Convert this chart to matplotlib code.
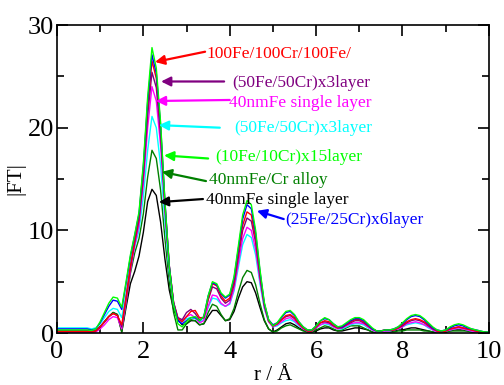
import numpy as np
import matplotlib
matplotlib.use("Agg")
import matplotlib.pyplot as plt
from matplotlib.ticker import MultipleLocator

plt.rcParams['font.family'] = ['Liberation Serif', 'DejaVu Serif']

# r grid 0.0 .. 10.0, step 0.1
r = np.round(np.arange(0, 101) / 10.0, 1)

lime = [0.3, 0.3, 0.3, 0.3, 0.3, 0.3, 0.3, 0.3, 0.25, 0.4,
        1.1, 2.0, 2.9, 3.5, 3.4, 2.5, 5.0, 7.6, 9.6, 11.8,
        16.5, 23.0, 27.8, 25.8, 20.5, 12.8, 6.5, 2.8, 0.9, 0.6,
        1.1, 1.5, 1.6, 1.2, 1.6, 3.6, 5.0, 4.8, 3.9, 3.5,
        3.8, 5.5, 8.5, 11.5, 12.9, 12.5, 10.0, 6.2, 3.0, 1.3,
        0.7, 1.0, 1.6, 2.1, 2.2, 1.8, 1.1, 0.6, 0.3, 0.3,
        0.7, 1.2, 1.5, 1.3, 0.9, 0.6, 0.7, 1.0, 1.3, 1.5,
        1.5, 1.3, 0.9, 0.5, 0.2, 0.2, 0.3, 0.3, 0.4, 0.6,
        1.0, 1.4, 1.7, 1.8, 1.7, 1.4, 1.0, 0.6, 0.3, 0.2,
        0.3, 0.6, 0.8, 0.9, 0.8, 0.6, 0.4, 0.3, 0.2, 0.1, 0.1]

blue = [0.4, 0.4, 0.4, 0.4, 0.4, 0.4, 0.4, 0.4, 0.3, 0.4,
        1.0, 1.8, 2.6, 3.2, 3.1, 2.3, 4.8, 7.4, 9.5, 11.6,
        16.2, 22.5, 27.1, 25.3, 20.2, 12.8, 6.6, 2.9, 1.2, 0.9,
        1.2, 1.5, 1.5, 1.2, 1.6, 3.6, 4.9, 4.7, 3.8, 3.4,
        3.7, 5.3, 8.2, 11.1, 12.5, 12.1, 9.7, 6.0, 2.9, 1.3,
        0.8, 1.0, 1.5, 2.0, 2.1, 1.7, 1.1, 0.6, 0.3, 0.3,
        0.7, 1.2, 1.4, 1.3, 0.9, 0.6, 0.6, 0.9, 1.2, 1.4,
        1.4, 1.2, 0.8, 0.4, 0.2, 0.2, 0.3, 0.3, 0.4, 0.6,
        0.9, 1.3, 1.6, 1.7, 1.6, 1.3, 0.9, 0.5, 0.3, 0.2,
        0.3, 0.5, 0.7, 0.8, 0.7, 0.5, 0.4, 0.3, 0.2, 0.1, 0.1]

red = [0.15, 0.15, 0.15, 0.15, 0.15, 0.15, 0.15, 0.15, 0.1, 0.2,
       0.6, 1.1, 1.6, 1.9, 1.7, 0.8, 3.5, 6.5, 9.0, 11.3,
       15.7, 22.0, 26.5, 24.8, 19.8, 12.6, 6.6, 3.0, 1.4, 1.1,
       1.6, 2.1, 2.2, 1.5, 1.5, 3.3, 4.8, 4.6, 3.6, 3.1,
       3.4, 5.0, 7.8, 10.5, 11.8, 11.5, 9.2, 5.7, 2.8, 1.2,
       0.7, 0.9, 1.3, 1.7, 1.8, 1.5, 0.9, 0.5, 0.2, 0.2,
       0.6, 1.0, 1.2, 1.1, 0.8, 0.5, 0.6, 0.8, 1.1, 1.3,
       1.3, 1.1, 0.7, 0.4, 0.2, 0.2, 0.3, 0.3, 0.3, 0.5,
       0.8, 1.1, 1.3, 1.4, 1.3, 1.1, 0.8, 0.5, 0.2, 0.1,
       0.2, 0.4, 0.5, 0.6, 0.5, 0.4, 0.3, 0.2, 0.1, 0.1, 0.0]

purple = [0.2, 0.2, 0.2, 0.2, 0.2, 0.2, 0.2, 0.2, 0.15, 0.2,
          0.6, 1.1, 1.6, 1.9, 1.7, 0.6, 3.3, 6.3, 8.8, 11.0,
          15.2, 21.2, 25.4, 23.9, 19.2, 12.3, 6.5, 3.0, 1.5, 1.3,
          2.0, 2.3, 1.9, 1.3, 1.5, 3.2, 4.5, 4.3, 3.4, 2.9,
          3.2, 4.7, 7.4, 10.0, 11.2, 10.9, 8.8, 5.5, 2.7, 1.2,
          0.7, 0.9, 1.3, 1.6, 1.7, 1.4, 0.9, 0.5, 0.2, 0.2,
          0.6, 1.0, 1.1, 1.0, 0.7, 0.5, 0.5, 0.8, 1.0, 1.2,
          1.2, 1.0, 0.7, 0.4, 0.2, 0.2, 0.3, 0.3, 0.3, 0.5,
          0.7, 1.0, 1.2, 1.3, 1.2, 1.0, 0.7, 0.4, 0.2, 0.1,
          0.2, 0.4, 0.5, 0.6, 0.5, 0.4, 0.3, 0.2, 0.1, 0.1, 0.0]

magenta = [0.05, 0.05, 0.05, 0.05, 0.05, 0.05, 0.05, 0.05, 0.05, 0.1,
           0.4, 0.8, 1.3, 1.6, 1.5, 0.4, 3.0, 6.0, 8.5, 10.5,
           14.5, 20.0, 24.0, 22.6, 18.2, 11.8, 6.3, 2.9, 1.4, 1.2,
           1.6, 1.8, 1.5, 1.0, 1.2, 2.6, 3.7, 3.6, 2.9, 2.6,
           2.9, 4.3, 6.8, 9.2, 10.3, 10.0, 8.1, 5.1, 2.5, 1.1,
           0.6, 0.8, 1.1, 1.4, 1.5, 1.2, 0.8, 0.4, 0.2, 0.2,
           0.5, 0.8, 1.0, 0.9, 0.6, 0.4, 0.5, 0.7, 0.9, 1.0,
           1.0, 0.9, 0.6, 0.3, 0.1, 0.1, 0.2, 0.2, 0.3, 0.4,
           0.6, 0.9, 1.0, 1.1, 1.0, 0.8, 0.6, 0.3, 0.1, 0.1,
           0.2, 0.3, 0.4, 0.5, 0.4, 0.3, 0.2, 0.1, 0.1, 0.0, 0.0]

cyan = [0.5, 0.5, 0.5, 0.5, 0.5, 0.5, 0.5, 0.5, 0.4, 0.5,
        0.9, 1.5, 2.1, 2.4, 2.3, 1.5, 3.8, 6.5, 8.4, 10.0,
        13.3, 17.8, 21.1, 20.0, 16.3, 10.8, 5.9, 2.8, 1.4, 1.1,
        1.4, 1.5, 1.4, 1.1, 1.3, 2.5, 3.4, 3.3, 2.8, 2.6,
        2.8, 4.1, 6.4, 8.6, 9.6, 9.3, 7.6, 4.8, 2.4, 1.1,
        0.6, 0.7, 1.0, 1.2, 1.3, 1.1, 0.7, 0.4, 0.2, 0.2,
        0.5, 0.8, 0.9, 0.8, 0.6, 0.4, 0.4, 0.6, 0.8, 0.9,
        0.9, 0.8, 0.5, 0.3, 0.1, 0.1, 0.2, 0.2, 0.3, 0.4,
        0.6, 0.8, 0.9, 1.0, 0.9, 0.8, 0.5, 0.3, 0.1, 0.1,
        0.2, 0.3, 0.4, 0.5, 0.4, 0.3, 0.2, 0.1, 0.1, 0.0, 0.0]

dgreen = [0.2, 0.2, 0.2, 0.2, 0.2, 0.2, 0.2, 0.2, 0.15, 0.2,
          0.6, 1.1, 1.6, 2.0, 1.8, 0.1, 2.8, 5.8, 7.8, 9.2,
          11.6, 15.2, 17.8, 17.0, 13.9, 9.2, 5.0, 2.0, 0.3, 0.3,
          0.9, 1.3, 1.2, 0.8, 0.9, 2.0, 2.8, 2.6, 1.8, 1.2,
          1.4, 2.4, 4.0, 5.4, 6.1, 5.9, 4.7, 2.9, 1.3, 0.4,
          0.1, 0.2, 0.5, 0.7, 0.8, 0.6, 0.4, 0.2, 0.1, 0.1,
          0.3, 0.5, 0.7, 0.6, 0.4, 0.2, 0.3, 0.5, 0.7, 0.7,
          0.7, 0.5, 0.3, 0.1, 0.0, 0.0, 0.1, 0.1, 0.1, 0.2,
          0.2, 0.3, 0.3, 0.3, 0.3, 0.2, 0.2, 0.1, 0.1, 0.1,
          0.1, 0.2, 0.2, 0.2, 0.2, 0.2, 0.1, 0.1, 0.1, 0.0, 0.0]

black = [0.2, 0.2, 0.2, 0.2, 0.2, 0.2, 0.2, 0.2, 0.15, 0.2,
         0.6, 1.1, 1.6, 2.0, 1.8, 0.1, 2.5, 4.8, 6.0, 7.5,
         9.8, 12.8, 14.0, 13.4, 10.8, 7.2, 4.2, 2.3, 1.3, 0.8,
         0.9, 1.2, 1.2, 0.8, 0.9, 1.6, 2.2, 2.2, 1.7, 1.2,
         1.3, 2.1, 3.4, 4.5, 5.0, 4.9, 3.9, 2.5, 1.2, 0.4,
         0.1, 0.3, 0.6, 0.9, 1.0, 0.8, 0.5, 0.3, 0.1, 0.1,
         0.2, 0.4, 0.5, 0.5, 0.3, 0.2, 0.2, 0.3, 0.4, 0.5,
         0.5, 0.4, 0.3, 0.1, 0.0, 0.0, 0.1, 0.1, 0.2, 0.3,
         0.3, 0.4, 0.5, 0.5, 0.4, 0.3, 0.2, 0.1, 0.1, 0.1,
         0.1, 0.2, 0.3, 0.3, 0.3, 0.2, 0.1, 0.1, 0.1, 0.0, 0.0]

series = [
    (black, "black"),
    (dgreen, "#008000"),
    (cyan, "#00ffff"),
    (magenta, "#ff00ff"),
    (purple, "#800080"),
    (red, "#ff0000"),
    (blue, "#0000ff"),
    (lime, "#00ff00"),
]

# label, colour, text position, arrow tail, arrow head (data coords)
labels = [
    ("100Fe/100Cr/100Fe/", "#ff0000", (3.45, 27.2), (3.43, 27.4), (2.27, 26.4)),
    ("(50Fe/50Cr)x3layer", "#800080", (4.07, 24.4), (3.87, 24.5), (2.41, 24.5)),
    ("40nmFe single layer", "#ff00ff", (3.98, 22.4), (4.0, 22.7), (2.29, 22.6)),
    ("(50Fe/50Cr)x3layer", "#00ffff", (4.10, 20.0), (3.77, 20.0), (2.36, 20.25)),
    ("(10Fe/10Cr)x15layer", "#00ff00", (3.66, 17.1), (3.5, 17.0), (2.48, 17.3)),
    ("40nmFe/Cr alloy", "#008000", (3.52, 14.9), (3.45, 14.8), (2.43, 15.7)),
    ("40nmFe single layer", "black", (3.45, 13.0), (3.38, 13.05), (2.36, 12.75)),
    ("(25Fe/25Cr)x6layer", "#0000ff", (5.28, 11.0), (5.25, 11.1), (4.63, 11.9)),
]

fig = plt.figure(figsize=(5.04, 3.85), dpi=100)
ax = fig.add_axes([0.113, 0.135, 0.857, 0.80])

for y, c in series:
    ax.plot(r, y, color=c, lw=1.0)

for text, c, tpos, tail, head in labels:
    ax.annotate("", xy=head, xytext=tail,
                arrowprops=dict(arrowstyle="-|>", color=c, lw=1.6,
                                mutation_scale=14, shrinkA=0, shrinkB=0))
    ax.text(tpos[0], tpos[1], text, color=c, fontsize=12.5, va="center", ha="left")

ax.set_xlim(0, 10)
ax.set_ylim(0, 30)
ax.xaxis.set_major_locator(MultipleLocator(2))
ax.xaxis.set_minor_locator(MultipleLocator(1))
ax.yaxis.set_major_locator(MultipleLocator(10))
ax.yaxis.set_minor_locator(MultipleLocator(5))
ax.tick_params(which="both", direction="in", top=True, right=True, width=1.2)
ax.tick_params(which="major", length=8, labelsize=19, pad=2)
ax.tick_params(axis="x", which="major", pad=6)
ax.tick_params(which="minor", length=5)
for s in ax.spines.values():
    s.set_linewidth(1.2)
ax.set_xlabel("r / Å", fontsize=15, labelpad=2)
ax.set_ylabel("|FT|", fontsize=15, labelpad=2)

fig.savefig("out.png", dpi=100)
